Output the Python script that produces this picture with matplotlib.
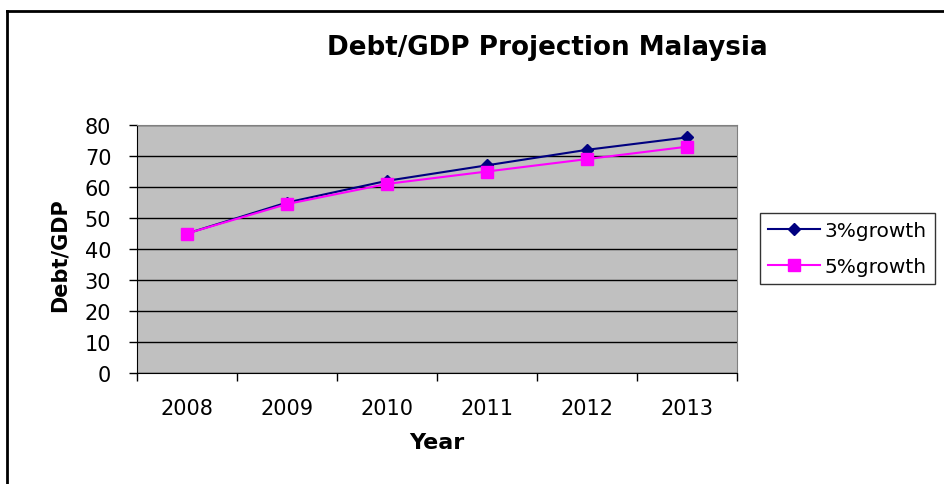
import matplotlib
matplotlib.use("Agg")
import matplotlib.pyplot as plt
from matplotlib.lines import Line2D

plt.rcParams['font.family'] = ['DejaVu Sans']

years = ["2008", "2009", "2010", "2011", "2012", "2013"]
growth_3 = [45, 55, 62, 67, 72, 76]
growth_5 = [45, 54.5, 61, 65, 69, 73]
y_ticks = [0, 10, 20, 30, 40, 50, 60, 70, 80]

fig = plt.figure(figsize=(9.44, 4.85), dpi=100)
ax = fig.add_axes([137 / 944, 1 - 374 / 485, 600 / 944, 248 / 485])
ax.set_facecolor('#c0c0c0')

x = list(range(len(years)))
ax.plot(x, growth_3, color='#000080', marker='D', markersize=6, linewidth=1.5,
        label='3%growth', zorder=3)
ax.plot(x, growth_5, color='#ff00ff', marker='s', markersize=9, linewidth=1.5,
        label='5%growth', zorder=4)

ax.set_xlim(-0.5, len(years) - 0.5)
ax.set_ylim(0, 80)
ax.set_yticks(y_ticks)
ax.yaxis.grid(True, color='black', linewidth=1)
ax.set_axisbelow(True)

# category boundary ticks, labels in the middle
ax.set_xticks([i - 0.5 for i in range(len(years) + 1)])
ax.set_xticklabels([])
ax.set_xticks(x, minor=True)
ax.set_xticklabels(years, minor=True, fontsize=15)
ax.tick_params(axis='x', which='major', direction='out', length=5.5, width=1)
ax.tick_params(axis='x', which='minor', length=0, pad=18)
ax.tick_params(axis='y', direction='out', length=5.5, width=1, labelsize=15, pad=13)

ax.spines['left'].set_color('black')
ax.spines['bottom'].set_color('black')
ax.spines['top'].set_color('#808080')
ax.spines['right'].set_color('#808080')

ax.set_xlabel('Year', fontsize=16, fontweight='bold')
ax.xaxis.set_label_coords(0.5, -(433 - 374) / 248)
ax.set_ylabel('Debt/GDP', fontsize=15, fontweight='bold')
ax.yaxis.set_label_coords(-(137 - 70) / 600, (374 - 255) / 248)

fig.text(547 / 944, 1 - 48 / 485, 'Debt/GDP Projection Malaysia', ha='center', va='center',
         fontsize=18.8, fontweight='bold')

leg = fig.legend(handles=[
    Line2D([], [], color='#000080', marker='D', markersize=6, linewidth=1.5, label='3%growth'),
    Line2D([], [], color='#ff00ff', marker='s', markersize=9, linewidth=1.5, label='5%growth'),
], loc='center left', bbox_to_anchor=(760 / 944, 1 - 249.5 / 485), fontsize=14.5,
    frameon=True, fancybox=False, edgecolor='black', handlelength=2.6, labelspacing=0.8,
    borderpad=0.4, handletextpad=0.2, borderaxespad=0)
leg.get_frame().set_linewidth(1)

# outer chart frame (top and left edges visible)
fig.add_artist(Line2D([7 / 944, 7 / 944], [0, 1 - 12 / 485], color='black', linewidth=2,
                      transform=fig.transFigure))
fig.add_artist(Line2D([7 / 944, 1], [1 - 12 / 485, 1 - 12 / 485], color='black', linewidth=2,
                      transform=fig.transFigure))

fig.savefig('out.png', dpi=100)
